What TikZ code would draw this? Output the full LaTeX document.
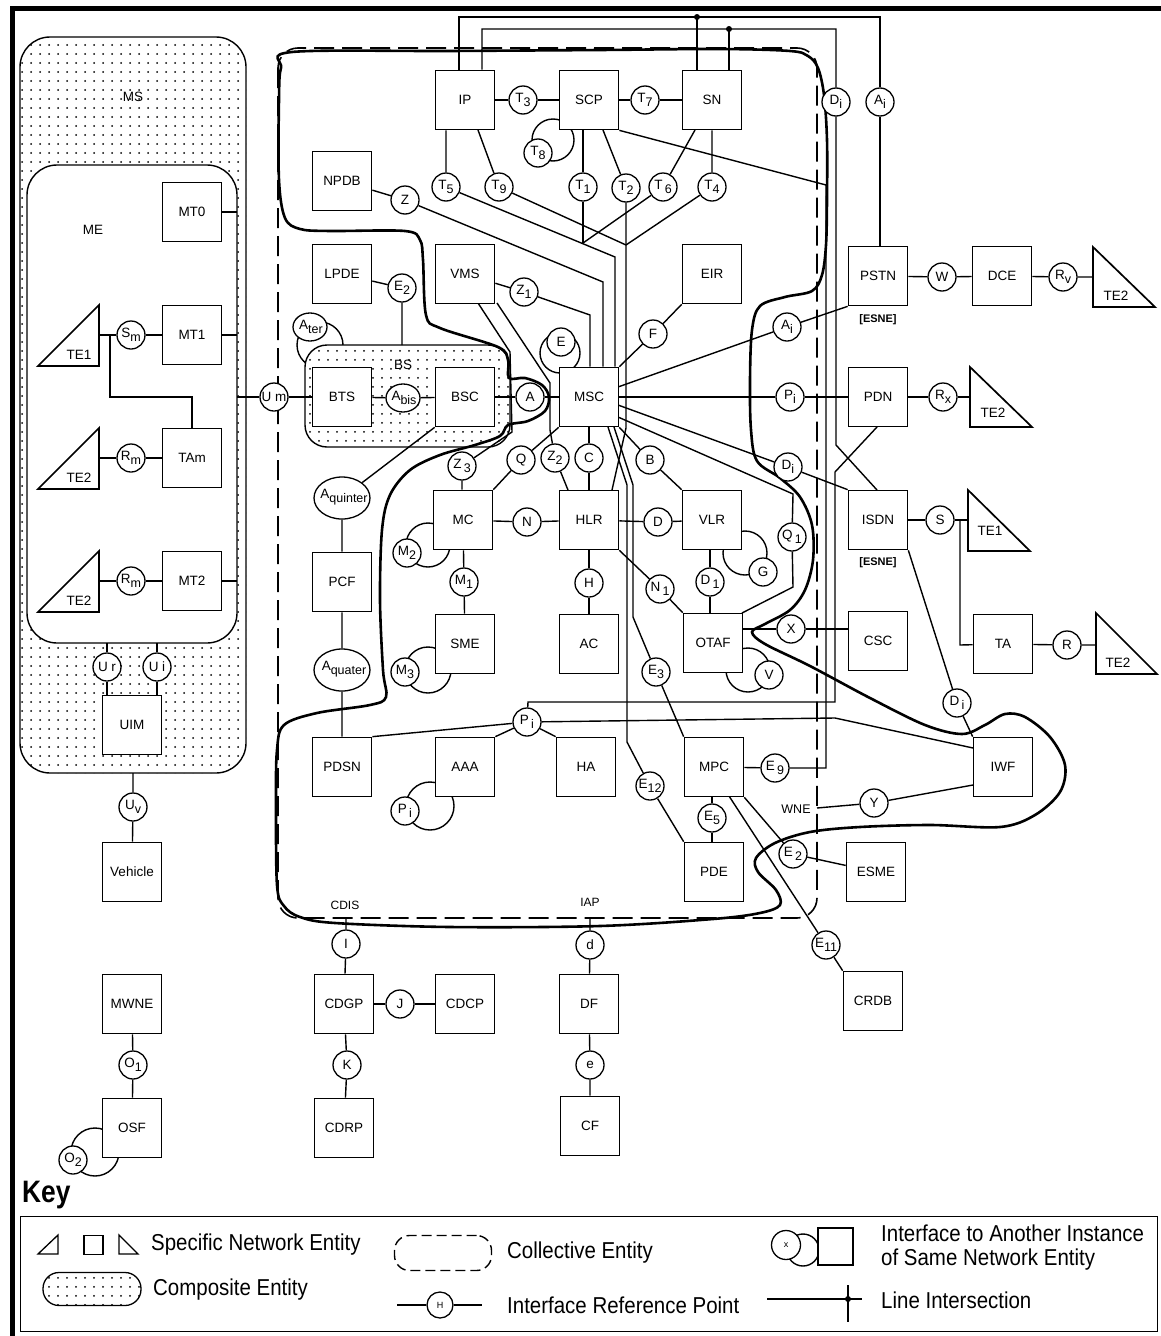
\documentclass[tikz,border=0pt]{standalone}
\usepackage{fontspec}
\setmainfont{Liberation Sans}
\usepackage{graphicx}
\usetikzlibrary{shapes.geometric,patterns}
\pgfdeclarelayer{back}
\pgfdeclarelayer{bg}
\pgfsetlayers{back,bg,main}
\pgfdeclarepatternformonly{msdots}{\pgfqpoint{0pt}{0pt}}{\pgfqpoint{9pt}{9pt}}{\pgfqpoint{9pt}{9pt}}{\pgfpathcircle{\pgfqpoint{4.5pt}{4.5pt}}{1.1pt}\pgfusepath{fill}}
\newcommand{\fs}{\fontsize{13.5}{13.5}\selectfont}
\newcommand{\lowr}[1]{\raisebox{-3.5pt}{\fontsize{12.5}{12.5}\selectfont #1}}
\newcommand{\kt}[1]{\scalebox{0.89}[1]{\fontsize{23}{23}\selectfont #1}}
\begin{document}
\begin{tikzpicture}[x=1pt,y=-1pt,
  ent/.style={draw, fill=white, line width=1.7pt, minimum width=59pt, minimum height=59pt, inner sep=0pt, font=\fs},
  ifc/.style={circle, draw, fill=white, line width=1.3pt, minimum size=28pt, inner sep=0pt, font=\fs},
  ifel/.style={ellipse, draw, fill=white, line width=1.3pt, inner sep=0pt},
  lbl/.style={inner sep=0pt, font=\fs},
  lk/.style={line width=1.4pt},
  tri/.style={draw, fill=white, line width=1.7pt, line join=miter},
  blobline/.style={line width=2.6pt},
  coll/.style={line width=1.6pt, dash pattern=on 20pt off 8pt},
  ktext/.style={anchor=west, inner sep=0pt}
]
\useasboundingbox (0,0) rectangle (1161,1336);

% ---------------- entities ----------------
\node[ent] (MT0) at (192,212) {MT0};
\node[ent] (MT1) at (192,335) {MT1};
\node[ent] (TAm) at (192,458) {TAm};
\node[ent] (MT2) at (192,581) {MT2};
\node[ent] (UIM) at (132,725) {UIM};
\node[ent] (Veh) at (132,872) {Vehicle};
\node[ent] (MWNE) at (132,1004) {MWNE};
\node[ent] (OSF) at (132,1128) {OSF};

\node[ent] (NPDB) at (342,181) {NPDB};
\node[ent] (LPDE) at (342,274) {LPDE};
\node[ent] (BTS) at (342,397) {BTS};
\node[ent] (PCF) at (342,582) {PCF};
\node[ent] (PDSN) at (342,767) {PDSN};
\node[ent] (IP) at (465,100) {IP};
\node[ent] (SCP) at (589,100) {SCP};
\node[ent] (SN) at (712,100) {SN};
\node[ent] (VMS) at (465,274) {VMS};
\node[ent] (BSC) at (465,397) {BSC};
\node[ent] (MC) at (463,520) {MC};
\node[ent] (SME) at (465,644) {SME};
\node[ent] (AAA) at (465,767) {AAA};
\node[ent] (EIR) at (712,274) {EIR};
\node[ent] (MSC) at (589,397) {MSC};
\node[ent] (HLR) at (589,520) {HLR};
\node[ent] (AC) at (589,644) {AC};
\node[ent] (HA) at (586,767) {HA};
\node[ent] (VLR) at (712,520) {VLR};
\node[ent] (OTAF) at (713,643) {OTAF};
\node[ent] (MPC) at (714,767) {MPC};
\node[ent] (PDE) at (714,872) {PDE};
\node[ent] (PSTN) at (878,276) {PSTN};
\node[ent] (PDN) at (878,397) {PDN};
\node[ent] (ISDN) at (878,520) {ISDN};
\node[ent] (CSC) at (878,641) {CSC};
\node[ent] (ESME) at (876,872) {ESME};
\node[ent] (CRDB) at (873,1001) {CRDB};
\node[ent] (DCE) at (1002,276) {DCE};
\node[ent] (TA) at (1003,644) {TA};
\node[ent] (IWF) at (1003,767) {IWF};
\node[ent] (CDGP) at (344,1004) {CDGP};
\node[ent] (CDCP) at (465,1004) {CDCP};
\node[ent] (CDRP) at (344,1128) {CDRP};
\node[ent] (DF) at (589,1004) {DF};
\node[ent] (CF) at (590,1126) {CF};

\node[inner sep=0pt, font=\bfseries\fontsize{11}{11}\selectfont] (esne1) at (878,320) {[ESNE]};
\node[inner sep=0pt, font=\bfseries\fontsize{11}{11}\selectfont] (esne2) at (878,563) {[ESNE]};

% triangles
\draw[tri] (38,366) -- (99,366) -- (99,305) -- cycle;
\node[lbl] (te1l) at (79,355) {TE1};
\draw[tri] (38,489) -- (99,489) -- (99,428) -- cycle;
\node[lbl] (te2al) at (79,478) {TE2};
\draw[tri] (38,612) -- (99,612) -- (99,551) -- cycle;
\node[lbl] (te2bl) at (79,601) {TE2};
\draw[tri] (1093,247) -- (1093,307) -- (1155,307) -- cycle;
\node[lbl] (te2dl) at (1116,296) {TE2};
\draw[tri] (970,367) -- (970,427) -- (1032,427) -- cycle;
\node[lbl] (te2pl) at (993,413) {TE2};
\draw[tri] (968,490) -- (968,551) -- (1030,551) -- cycle;
\node[lbl] (te1il) at (990,531) {TE1};
\draw[tri] (1096,613) -- (1096,674) -- (1157,674) -- cycle;
\node[lbl] (te2tl) at (1118,663) {TE2};

% ---------------- interface points ----------------
\node[ifc] (Sm) at (131,335) {S\lowr{m}};
\node[ifc] (Rm1) at (131,458) {R\lowr{m}};
\node[ifc] (Rm2) at (131,581) {R\lowr{m}};
\node[ifc] (Ur) at (107,667) {U r};
\node[ifc] (Ui) at (157,667) {U i};
\node[ifc] (Uv) at (133,807) {U\lowr{v}};
\node[ifc] (O1) at (133,1065) {O\lowr{1}};
\node[ifc] (O2) at (73,1160) {O\lowr{2}};
\node[ifc] (Um) at (274,397) {U m};
\node[ifc] (Z) at (405,200) {Z};
\node[ifc] (E2a) at (402,288) {E\lowr{2}};
\node[ifc] (Z1) at (524,292) {Z\lowr{1}};
\node[ifc] (E) at (561,342) {E};
\node[ifc] (F) at (653,334) {F};
\node[ifc] (T3) at (523,100) {T\lowr{3}};
\node[ifc] (T7) at (645,100) {T\lowr{7}};
\node[ifc] (T8) at (538,153) {T\lowr{8}};
\node[ifc] (T5) at (446,187) {T\lowr{5}};
\node[ifc] (T9) at (499,187) {T\lowr{9}};
\node[ifc] (T1) at (583,187) {T\lowr{1}};
\node[ifc] (T2) at (626,188) {T\lowr{2}};
\node[ifc] (T6) at (663,187) {T\,\lowr{6}};
\node[ifc] (T4) at (712,187) {T\lowr{4}};
\node[ifc] (Dit) at (836,102) {D\lowr{i}};
\node[ifc] (Ait) at (880,102) {A\lowr{i}};
\node[ifc] (A) at (530,397) {A};
\node[ifc] (Ai) at (787,327) {A\lowr{i}};
\node[ifc] (Pi1) at (790,397) {P\lowr{i}};
\node[ifc] (Di1) at (788,467) {D\lowr{i}};
\node[ifc] (Q1) at (792,537) {Q\,\lowr{1}};
\node[ifc] (W) at (942,277) {W};
\node[ifc] (Rv) at (1063,277) {R\lowr{v}};
\node[ifc] (Rx) at (943,397) {R\lowr{x}};
\node[ifc] (S) at (940,520) {S};
\node[ifc] (R) at (1067,645) {R};
\node[ifc] (Z3) at (462,466) {Z\,\lowr{3}};
\node[ifc] (Q) at (521,460) {Q};
\node[ifc] (Z2) at (555,458) {Z\lowr{2}};
\node[ifc] (C) at (589,458) {C};
\node[ifc] (B) at (650,460) {B};
\node[ifc] (N) at (527,522) {N};
\node[ifc] (D) at (658,522) {D};
\node[ifc] (M2) at (407,553) {M\lowr{2}};
\node[ifc] (M1) at (464,582) {M\lowr{1}};
\node[ifc] (H) at (589,583) {H};
\node[ifc] (N1) at (660,589) {N\,\lowr{1}};
\node[ifc] (D1) at (710,582) {D\,\lowr{1}};
\node[ifc] (G) at (763,572) {G};
\node[ifc] (X) at (791,629) {X};
\node[ifc] (V) at (769,675) {V};
\node[ifc] (M3) at (405,672) {M\lowr{3}};
\node[ifc] (E3) at (656,672) {E\lowr{3}};
\node[ifc] (Pi2) at (527,722) {P\,\lowr{i}};
\node[ifc] (Pi3) at (405,811) {P\,\lowr{i}};
\node[ifc] (E12) at (650,786) {E\lowr{12}};
\node[ifc] (E9) at (775,768) {E\,\lowr{9}};
\node[ifc] (E5) at (712,818) {E\lowr{5}};
\node[ifc] (E2b) at (793,854) {E\,\lowr{2}};
\node[ifc] (Y) at (874,803) {Y};
\node[ifc] (Di2) at (957,703) {D\,\lowr{i}};
\node[ifc] (E11) at (826,945) {E\lowr{11}};
\node[ifc] (I) at (346,944) {I};
\node[ifc] (J) at (400,1004) {J};
\node[ifc] (K) at (347,1065) {K};
\node[ifc] (dd) at (590,945) {d};
\node[ifc] (ee) at (590,1065) {e};

\node[ifel, minimum width=34pt, minimum height=28pt] (Ater) at (310,327) {};
\node[lbl] (Aterl) at (311,327) {A\lowr{ter}};
\node[ifel, minimum width=34pt, minimum height=28pt] (Abis) at (403,398) {};
\node[lbl] (Abisl) at (404,398) {A\lowr{bis}};
\node[ifel, minimum width=56pt, minimum height=42pt] (Aqn) at (342,498) {};
\node[lbl] (Aqnl) at (344,497) {A\lowr{quinter}};
\node[ifel, minimum width=56pt, minimum height=42pt] (Aqt) at (342,670) {};
\node[lbl] (Aqtl) at (344,669) {A\lowr{quater}};

% labels
\node[lbl] (msl) at (133,97) {MS};
\node[lbl] (mel) at (93,230) {ME};
\node[lbl] (bsl) at (403,365) {BS};
\node[lbl, font=\fontsize{12}{12}\selectfont] (cdisl) at (345,905) {CDIS};
\node[lbl, font=\fontsize{12}{12}\selectfont] (iapl) at (590,902) {IAP};
\node[lbl, font=\fontsize{12.5}{12.5}\selectfont] (wnel) at (796,809) {WNE};

% ---------------- coordinates ----------------
\coordinate (te1p) at (99,335);
\coordinate (j1) at (110,335);
\coordinate (j2) at (110,397);
\coordinate (j3) at (192,397);
\coordinate (te2ap) at (99,458);
\coordinate (te2bp) at (99,581);
\coordinate (me0) at (237,212);
\coordinate (me1) at (237,335);
\coordinate (me2) at (237,581);
\coordinate (meU) at (237,397);
\coordinate (meUr) at (107,643);
\coordinate (meUi) at (157,643);
\coordinate (msUv) at (133,773);
\coordinate (zc) at (603,282);
\coordinate (t5j) at (615,257);
\coordinate (t1j) at (583,243);
\coordinate (tj) at (626,245);
\coordinate (ipb) at (478,130);
\coordinate (scpb) at (603,130);
\coordinate (snb) at (695,130);
\coordinate (t2m) at (626,428);
\coordinate (hlrtr) at (612,490);
\coordinate (sc1) at (826,185);
\coordinate (sc2) at (826,768);
\coordinate (ipu1) at (459,17);
\coordinate (ipu2) at (482,29);
\coordinate (snu1) at (697,17);
\coordinate (snu2) at (729,29);
\coordinate (dd1) at (836,445);
\coordinate (isdnt) at (877,490);
\coordinate (bstop) at (402,345);
\coordinate (z1c) at (590,315);
\coordinate (vm1) at (478,303);
\coordinate (vm2) at (510,352);
\coordinate (vm3) at (512,432);
\coordinate (vm4) at (497,303);
\coordinate (vm5) at (550,383);
\coordinate (vm6) at (550,430);
\coordinate (hlrtl) at (568,490);
\coordinate (mr1) at (618,387);
\coordinate (mr3) at (618,405);
\coordinate (mr4) at (618,417);
\coordinate (q1a) at (793,494);
\coordinate (q1b) at (793,587);
\coordinate (otaftr) at (742,613);
\coordinate (e12a) at (608,427);
\coordinate (e12b) at (627,485);
\coordinate (e12c) at (627,742);
\coordinate (e3a) at (614,427);
\coordinate (e3b) at (633,485);
\coordinate (e3c) at (633,617);
\coordinate (mpcb) at (729,796);
\coordinate (wne) at (817,808);
\coordinate (iwl2) at (973,785);
\coordinate (p1) at (528,702);
\coordinate (p2) at (835,702);
\coordinate (p3) at (835,472);
\coordinate (p4) at (877,427);
\coordinate (p5) at (835,718);
\coordinate (iwl) at (973,748);
\coordinate (sj) at (960,520);
\coordinate (sj2) at (960,645);
\coordinate (te2dp) at (1093,277);
\coordinate (te2pp) at (970,397);
\coordinate (te1ip) at (968,520);
\coordinate (te2tp) at (1096,645);
\coordinate (cdis) at (346,918);
\coordinate (iap) at (590,918);

% ---------------- back layer ----------------
\begin{pgfonlayer}{back}
\fill[white] (0,0) rectangle (1161,1336);
\draw[line width=1.4pt, rounded corners=30pt, fill=white, postaction={pattern=msdots}] (20,37) rectangle (246,773);
\draw[line width=1.4pt, rounded corners=30pt, fill=white] (27,165) rectangle (237,643);
\draw[coll, rounded corners=20pt] (278,48) rectangle (817,918);
\end{pgfonlayer}

% ---------------- connectors ----------------
\begin{pgfonlayer}{bg}
% self-loops
\draw[lk] (553,140) circle (21pt);
\draw[lk] (560,353) circle (20pt);
\draw[lk] (428,545) circle (22pt);
\draw[lk] (428,670) circle (23pt);
\draw[lk] (430,806) circle (24pt);
\draw[lk] (745,553) circle (22pt);
\draw[lk] (748,670) circle (22pt);
\draw[lk] (95,1152) circle (24pt);
\draw[lk] (320,345) circle (23pt);
% BS composite
\draw[line width=1.4pt, rounded corners=22pt, fill=white, postaction={pattern=msdots}] (305,345) rectangle (510,447);
% thick boundary
\draw[blobline] plot[smooth cycle, tension=0.55] coordinates {
(292,52) (450,51) (600,50) (720,49) (790,51) (808,56) (818,68) (824,95) (827,140) (827,200) (826,245) (822,275) (812,291) (785,297) (760,306) (752,330) (750,380) (751,430) (757,461) (780,478) (800,497) (812,525) (813,560) (805,590) (790,610) (765,624) (752,632) (765,644) (810,666) (870,698) (925,725) (962,734) (985,725) (1005,714) (1025,717) (1050,737) (1065,765) (1060,792) (1035,815) (1000,827) (930,825) (860,827) (810,832) (775,843) (756,858) (758,872) (776,890) (780,905) (760,913) (713,919) (600,926) (450,927) (335,923) (300,917) (284,906) (277,885) (276,800) (277,750) (284,725) (317,713) (370,705) (386,697) (383,670) (380,600) (382,530) (390,495) (410,470) (440,455) (475,445) (500,436) (508,425) (528,421) (545,411) (549,397) (542,385) (525,378) (509,378) (508,360) (498,347) (440,328) (426,315) (423,260) (420,240) (405,231) (330,231) (300,229) (285,218) (279,180) (279,100) (281,68)};
% mobile side
\draw[lk] (te1p) -- (Sm) -- (MT1);
\draw[lk] (j1) -- (j2) -- (j3) -- (TAm);
\draw[lk] (te2ap) -- (Rm1) -- (TAm);
\draw[lk] (te2bp) -- (Rm2) -- (MT2);
\draw[lk] (MT0) -- (me0);
\draw[lk] (MT1) -- (me1);
\draw[lk] (MT2) -- (me2);
\draw[lk] (meU) -- (Um) -- (BTS);
\draw[lk] (meUr) -- (Ur) -- (Ur |- UIM.north);
\draw[lk] (meUi) -- (Ui) -- (Ui |- UIM.north);
\draw[lk] (msUv) -- (Uv) -- (Veh);
\draw[lk] (MWNE) -- (O1) -- (OSF);
% T interfaces
\draw[lk] (IP) -- (T3) -- (SCP);
\draw[lk] (SCP) -- (T7) -- (SN);
\draw[lk] (T5 |- IP.south) -- (T5) -- (t5j) -- (t5j |- MSC.north);
\draw[lk] (ipb) -- (T9) -- (tj);
\draw[lk] (T1 |- SCP.south) -- (T1) -- (t1j);
\draw[lk] (snb) -- (T6) -- (t1j);
\draw[lk] (scpb) -- (T2) -- (t2m) -- (hlrtr);
\draw[lk] (T4 |- SN.south) -- (T4) -- (tj);
\draw[lk] (SCP.south east) -- (sc1) -- (sc2) -- (E9) -- (MPC);
\draw[lk] (ipu1 |- IP.north) -- (ipu1) -- (ipu1 -| Ait) -- (Ait) -- (Ait |- PSTN.north);
\draw[lk] (ipu2 |- IP.north) -- (ipu2) -- (ipu2 -| Dit) -- (Dit) -- (dd1) -- (isdnt);
\draw[lk] (snu1 |- SN.north) -- (snu1);
\draw[lk] (snu2 |- SN.north) -- (snu2);
\fill (snu1) circle (3pt);
\fill (snu2) circle (3pt);
% MSC area
\draw[lk] (NPDB) -- (Z) -- (zc) -- (zc |- MSC.north);
\draw[lk] (LPDE) -- (E2a) -- (bstop);
\draw[lk] (VMS) -- (Z1) -- (z1c) -- (z1c |- MSC.north);
\draw[lk] (vm1) -- (vm2) -- (vm3) -- (Z3) -- (Z3 |- MC.north);
\draw[lk] (vm4) -- (vm5) -- (vm6) -- (Z2) -- (hlrtl);
\draw[lk] (MSC.north east) -- (F) -- (EIR.south west);
\draw[lk] (BTS) -- (Abis) -- (BSC);
\draw[lk] (BSC) -- (A) -- (MSC);
\draw[lk] (BSC.south west) -- (Aqn) -- (PCF) -- (Aqt) -- (PDSN);
\draw[lk] (MSC.south west) -- (Q) -- (MC.north east);
\draw[lk] (MSC) -- (C) -- (HLR);
\draw[lk] (MSC.south east) -- (B) -- (VLR.north west);
\draw[lk] (mr1) -- (Ai) -- (PSTN.south west);
\draw[lk] (MSC) -- (Pi1) -- (PDN);
\draw[lk] (mr3) -- (Di1) -- (ISDN.north west);
\draw[lk] (mr4) -- (q1a) -- (Q1) -- (q1b) -- (otaftr);
\draw[lk] (e12a) -- (e12b) -- (e12c) -- (E12) -- (PDE.north west);
\draw[lk] (e3a) -- (e3b) -- (e3c) -- (E3) -- (MPC.north west);
\draw[lk] (MC) -- (N) -- (HLR);
\draw[lk] (HLR) -- (D) -- (VLR);
\draw[lk] (MC) -- (M1) -- (SME);
\draw[lk] (HLR) -- (H) -- (AC);
\draw[lk] (HLR.south east) -- (N1) -- (OTAF.north west);
\draw[lk] (VLR.south -| D1) -- (D1) -- (D1 |- OTAF.north);
\draw[lk] (OTAF.east |- X) -- (X) -- (CSC.west |- X);
\draw[lk] (MPC.south -| E5) -- (E5) -- (E5 |- PDE.north);
\draw[lk] (MPC.south east) -- (E2b) -- (ESME);
\draw[lk] (mpcb) -- (E11) -- (CRDB.north west);
\draw[lk] (wne) -- (Y) -- (iwl2);
\draw[lk] (ISDN.south east) -- (Di2) -- (IWF.north west);
\draw[lk] (PDSN.north east) -- (Pi2);
\draw[lk] (AAA.north east) -- (Pi2);
\draw[lk] (HA.north west) -- (Pi2);
\draw[lk] (Pi2) -- (p1) -- (p2) -- (p3) -- (p4);
\draw[lk] (Pi2) -- (p5) -- (iwl);
% right side
\draw[lk] (PSTN) -- (W) -- (DCE) -- (Rv) -- (te2dp);
\draw[lk] (PDN) -- (Rx) -- (te2pp);
\draw[lk] (ISDN) -- (S) -- (te1ip);
\draw[lk] (sj) -- (sj2) -- (TA);
\draw[lk] (TA) -- (R) -- (te2tp);
% bottom
\draw[lk] (cdis) -- (I) -- (CDGP);
\draw[lk] (CDGP) -- (J) -- (CDCP);
\draw[lk] (CDGP) -- (K) -- (CDRP);
\draw[lk] (iap) -- (dd) -- (DF) -- (ee) -- (CF);
\end{pgfonlayer}

% ---------------- frame ----------------
\draw[line width=5pt, line join=miter] (12,1336) -- (12,8) -- (1161,8);

% ---------------- key ----------------
\node[anchor=west, inner sep=0pt] (kkey) at (22,1195) {\scalebox{0.85}[1]{\bfseries\fontsize{31}{31}\selectfont Key}};
\node[draw, line width=1.4pt, minimum width=1137pt, minimum height=115pt, anchor=north west, inner sep=0pt] (kbox) at (20,1216) {};
\draw[line width=1.3pt, line join=miter] (38,1254) -- (58,1254) -- (58,1235) -- cycle;
\node[draw, line width=1.3pt, minimum size=19pt, inner sep=0pt] (ksq) at (93.5,1245) {};
\draw[line width=1.3pt, line join=miter] (119,1235) -- (119,1254) -- (138,1254) -- cycle;
\node[ktext] (kt1) at (151,1245) {\kt{Specific Network Entity}};
\node[draw, line width=1.3pt, rounded corners=16pt, minimum width=98pt, minimum height=33pt, pattern=msdots] (kcomp) at (92,1289) {};
\node[ktext] (kt2) at (153,1290) {\kt{Composite Entity}};
\node[draw, line width=1.4pt, rounded corners=15pt, dash pattern=on 10pt off 5pt, minimum width=97pt, minimum height=35pt] (kcoll) at (443,1253) {};
\node[ktext] (kt3) at (507,1253) {\kt{Collective Entity}};
\coordinate (kh1) at (397,1305);
\coordinate (kh2) at (482,1305);
\node[ifc, minimum size=26pt, font=\fontsize{9}{9}\selectfont] (kH) at (440,1305) {H};
\draw[lk] (kh1) -- (kH) -- (kh2);
\node[ktext] (kt4) at (507,1305) {\kt{Interface Reference Point}};
\draw[lk] (803,1250) circle (16pt);
\node[ifc, minimum size=29pt, font=\fontsize{9}{9}\selectfont] (kx) at (786,1245) {x};
\node[draw, fill=white, line width=1.3pt, minimum width=35pt, minimum height=37pt, inner sep=0pt] (ksq2) at (835.5,1246.5) {};
\node[ktext] (kt5) at (881,1233) {\kt{Interface to Another Instance}};
\node[ktext] (kt6) at (881,1260) {\kt{of Same Network Entity}};
\coordinate (kl1) at (767,1299);
\coordinate (kl2) at (862,1299);
\coordinate (kl3) at (848,1285);
\coordinate (kl4) at (848,1322);
\draw[lk] (kl1) -- (kl2);
\draw[lk] (kl3) -- (kl4);
\fill (848,1299) circle (3pt);
\node[ktext] (kt7) at (881,1300) {\kt{Line Intersection}};
\end{tikzpicture}
\end{document}
